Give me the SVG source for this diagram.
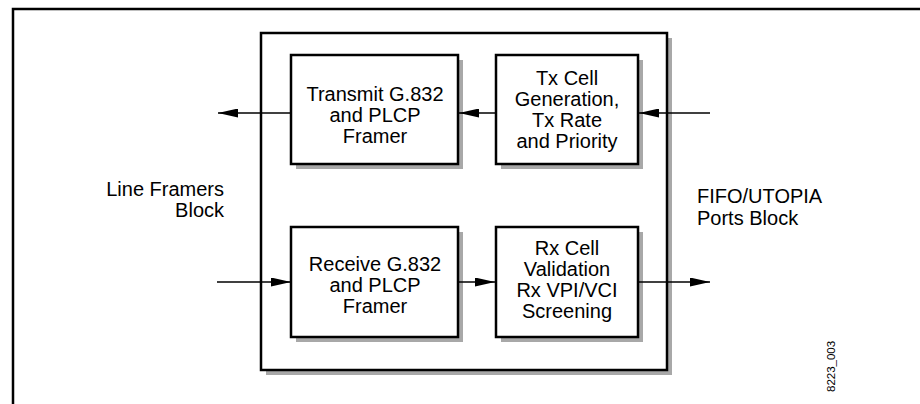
<svg xmlns="http://www.w3.org/2000/svg" width="920" height="404" viewBox="0 0 920 404">
<defs>
<marker id="ah" markerWidth="20" markerHeight="9" refX="20" refY="4.5" orient="auto" markerUnits="userSpaceOnUse">
<path d="M0,0 L20,4.5 L0,9 Z" fill="#000"/>
</marker>
</defs>
<style>
.frame{fill:none;stroke:#000;stroke-width:2.5}
.shadow{fill:#a8a8a8}
.box{fill:#fff;stroke:#000;stroke-width:2.5}
.lbl{font-family:"Liberation Sans",Arial,sans-serif;font-size:20px;fill:#000}
.c{text-anchor:middle}
.conn{stroke:#000;stroke-width:1.3;fill:none;marker-end:url(#ah)}
</style>
<rect width="920" height="404" fill="#fff"/>
<path class="frame" d="M13,404 L13,9 L920,9"/>
<g id="chip">
<rect class="shadow" x="266" y="38" width="406" height="337"/>
<rect class="box" x="261" y="33" width="406" height="337"/>
</g>
<g id="transmit">
<rect class="shadow" x="296" y="60" width="167" height="109"/>
<rect class="box" x="291" y="55" width="167" height="109"/>
<text class="lbl c" x="375" y="101">Transmit G.832</text>
<text class="lbl c" x="375" y="122">and PLCP</text>
<text class="lbl c" x="375" y="143">Framer</text>
</g>
<g id="txcell">
<rect class="shadow" x="501" y="60" width="142" height="109"/>
<rect class="box" x="496" y="55" width="142" height="109"/>
<text class="lbl c" x="567" y="85">Tx Cell</text>
<text class="lbl c" x="567" y="106">Generation,</text>
<text class="lbl c" x="567" y="127">Tx Rate</text>
<text class="lbl c" x="567" y="148">and Priority</text>
</g>
<g id="receive">
<rect class="shadow" x="296" y="232" width="167" height="110"/>
<rect class="box" x="291" y="227" width="167" height="110"/>
<text class="lbl c" x="375" y="271">Receive G.832</text>
<text class="lbl c" x="375" y="292">and PLCP</text>
<text class="lbl c" x="375" y="313">Framer</text>
</g>
<g id="rxcell">
<rect class="shadow" x="501" y="232" width="142" height="110"/>
<rect class="box" x="496" y="227" width="142" height="110"/>
<text class="lbl c" x="567" y="255">Rx Cell</text>
<text class="lbl c" x="567" y="276">Validation</text>
<text class="lbl c" x="567" y="297">Rx VPI/VCI</text>
<text class="lbl c" x="567" y="318">Screening</text>
</g>
<g id="line-framers">
<text class="lbl" x="224" y="196" text-anchor="end">Line Framers</text>
<text class="lbl" x="224" y="217" text-anchor="end">Block</text>
</g>
<g id="fifo-utopia">
<text class="lbl" x="697" y="203">FIFO/UTOPIA</text>
<text class="lbl" x="697" y="225">Ports Block</text>
</g>
<text x="835" y="392" transform="rotate(-90 835 392)" font-family="Liberation Sans,Arial,sans-serif" font-size="11.5">8223_003</text>
<g id="connectors">
<line class="conn" x1="291" y1="113" x2="218" y2="113"/>
<line class="conn" x1="496" y1="113" x2="459" y2="113"/>
<line class="conn" x1="710" y1="113" x2="639" y2="113"/>
<line class="conn" x1="217" y1="282" x2="291" y2="282"/>
<line class="conn" x1="459" y1="282" x2="495" y2="282"/>
<line class="conn" x1="638" y1="282" x2="710" y2="282"/>
</g>
</svg>
